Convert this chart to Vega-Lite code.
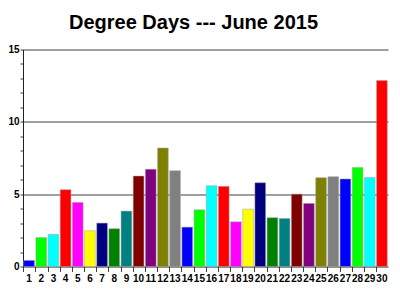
{
  "$schema": "https://vega.github.io/schema/vega-lite/v6.json",
  "autosize": {"type": "none"},
  "width": 365,
  "height": 217,
  "padding": {"left": 23, "top": 49.5, "right": 12, "bottom": 33.5},
  "background": "white",
  "title": {
    "text": "Degree Days --- June 2015",
    "font": "Liberation Sans",
    "fontSize": 20,
    "fontWeight": "bold",
    "color": "#000000",
    "anchor": "middle",
    "dx": -12,
    "offset": 12
  },
  "data": {
    "values": [
      {"day": 1, "dd": 0.42, "c": "c01"},
      {"day": 2, "dd": 2.0, "c": "c02"},
      {"day": 3, "dd": 2.22, "c": "c03"},
      {"day": 4, "dd": 5.31, "c": "c04"},
      {"day": 5, "dd": 4.43, "c": "c05"},
      {"day": 6, "dd": 2.47, "c": "c06"},
      {"day": 7, "dd": 3.0, "c": "c07"},
      {"day": 8, "dd": 2.61, "c": "c08"},
      {"day": 9, "dd": 3.83, "c": "c09"},
      {"day": 10, "dd": 6.25, "c": "c10"},
      {"day": 11, "dd": 6.72, "c": "c11"},
      {"day": 12, "dd": 8.19, "c": "c12"},
      {"day": 13, "dd": 6.62, "c": "c13"},
      {"day": 14, "dd": 2.72, "c": "c01"},
      {"day": 15, "dd": 3.92, "c": "c02"},
      {"day": 16, "dd": 5.58, "c": "c03"},
      {"day": 17, "dd": 5.54, "c": "c04"},
      {"day": 18, "dd": 3.09, "c": "c05"},
      {"day": 19, "dd": 3.97, "c": "c06"},
      {"day": 20, "dd": 5.79, "c": "c07"},
      {"day": 21, "dd": 3.37, "c": "c08"},
      {"day": 22, "dd": 3.32, "c": "c09"},
      {"day": 23, "dd": 5.0, "c": "c10"},
      {"day": 24, "dd": 4.36, "c": "c11"},
      {"day": 25, "dd": 6.14, "c": "c12"},
      {"day": 26, "dd": 6.21, "c": "c13"},
      {"day": 27, "dd": 6.05, "c": "c01"},
      {"day": 28, "dd": 6.85, "c": "c02"},
      {"day": 29, "dd": 6.16, "c": "c03"},
      {"day": 30, "dd": 12.85, "c": "c04"}
    ]
  },
  "mark": {"type": "bar", "stroke": "#a0a0a0", "strokeWidth": 0.5},
  "encoding": {
    "x": {
      "field": "day",
      "type": "ordinal",
      "sort": null,
      "scale": {"paddingInner": 0.12, "paddingOuter": 0.06},
      "axis": {
        "title": null,
        "labelAngle": 0,
        "labelFont": "Liberation Sans",
        "labelFontSize": 10,
        "labelFontWeight": "bold",
        "labelColor": "#000000",
        "labelPadding": 2,
        "labelOverlap": false,
        "bandPosition": 0,
        "tickSize": 5,
        "tickColor": "#404040",
        "domainColor": "#202020",
        "domainWidth": 1,
        "grid": false
      }
    },
    "y": {
      "field": "dd",
      "type": "quantitative",
      "scale": {"domain": [0, 15], "nice": false},
      "axis": {
        "title": null,
        "values": [0, 1, 2, 3, 4, 5, 6, 7, 8, 9, 10, 11, 12, 13, 14, 15],
        "labelExpr": "datum.value % 5 === 0 ? datum.label : ''",
        "labelFont": "Liberation Sans",
        "labelFontSize": 10,
        "labelFontWeight": "bold",
        "labelColor": "#000000",
        "labelPadding": 1,
        "tickSize": 3,
        "tickColor": "#404040",
        "domainColor": "#202020",
        "grid": true,
        "gridColor": {"condition": {"test": "datum.value % 5 === 0 && datum.value > 0", "value": "#404040"}, "value": "transparent"},
        "gridWidth": 1
      }
    },
    "color": {
      "field": "c",
      "type": "nominal",
      "legend": null,
      "scale": {
        "domain": ["c01", "c02", "c03", "c04", "c05", "c06", "c07", "c08", "c09", "c10", "c11", "c12", "c13"],
        "range": ["#0000FF", "#00FF00", "#00FFFF", "#FF0000", "#FF00FF", "#FFFF00", "#000080", "#008000", "#008080", "#800000", "#800080", "#808000", "#808080"]
      }
    }
  },
  "config": {"view": {"stroke": null}}
}
